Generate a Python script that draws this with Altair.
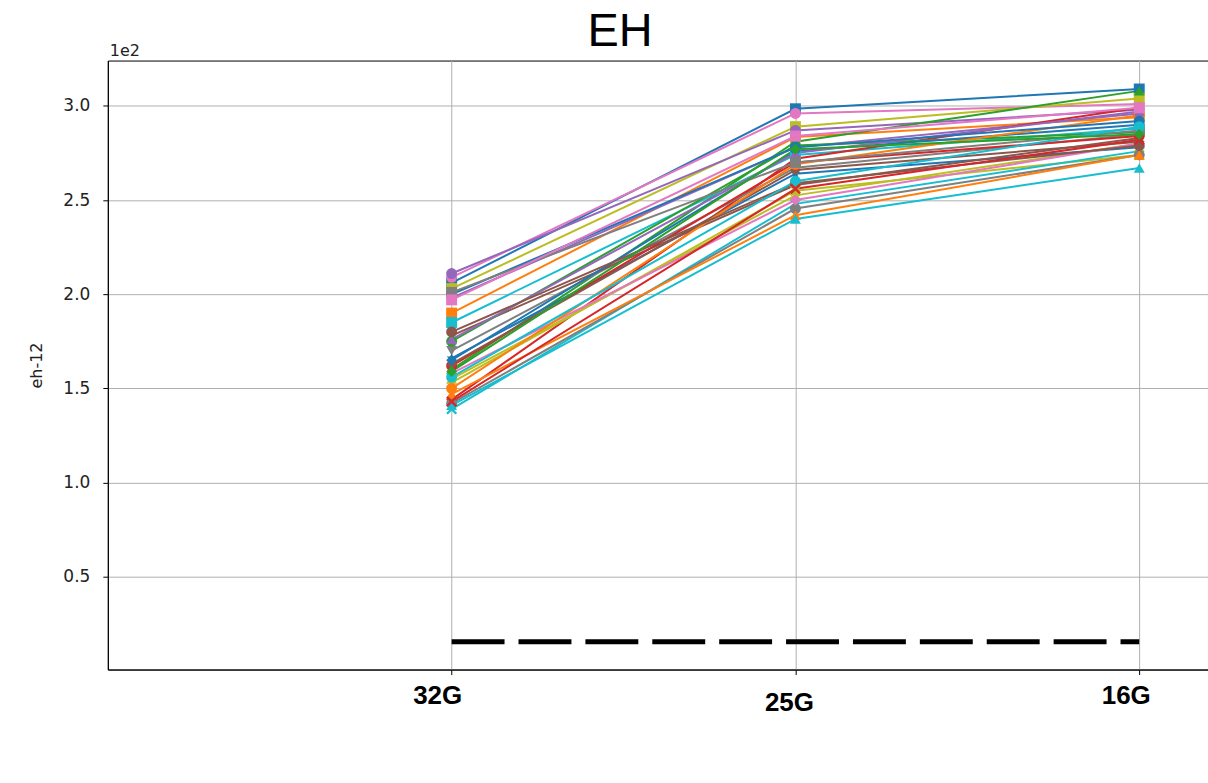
import altair as alt
import pandas as pd

categories = ["32G", "25G", "16G"]
cat_pos = [1, 2, 3]

series = [f"s{i}" for i in range(1, 33)]
colors = ["#1f77b4", "#e377c2", "#bcbd22", "#9467bd", "#ff7f0e", "#2ca02c", "#9467bd", "#17becf",
          "#d62728", "#7f7f7f", "#1f77b4", "#8c564b", "#bcbd22", "#bcbd22", "#17becf", "#7f7f7f",
          "#ff7f0e", "#17becf", "#2ca02c", "#e377c2", "#d62728", "#8c564b", "#1f77b4", "#ff7f0e",
          "#9467bd", "#1f77b4", "#7f7f7f", "#e377c2", "#8c564b", "#17becf", "#d62728", "#2ca02c"]
STAR = "M0,-1L0.2245,-0.309L0.951,-0.309L0.363,0.118L0.588,0.809L0,0.382L-0.588,0.809L-0.363,0.118L-0.951,-0.309L-0.2245,-0.309Z"
XSHP = "M-1,-0.7L-0.7,-1L0,-0.3L0.7,-1L1,-0.7L0.3,0L1,0.7L0.7,1L0,0.3L-0.7,1L-1,0.7L-0.3,0Z"
shapes = ["square", "circle", "square", "circle", "square", "triangle-up", "diamond", "square",
          "diamond", "triangle-down", STAR, STAR, XSHP, "triangle-up", XSHP, "circle",
          "triangle-up", "triangle-up", "circle", "diamond", "circle", "diamond", "diamond", "circle",
          "triangle-up", "circle", "square", "square", "circle", "circle", XSHP, "diamond"]
v32 = [2.06, 2.09, 2.03, 2.11, 1.90, 1.60, 1.98, 1.85, 1.44, 1.70, 1.66, 1.78, 1.53, 1.55, 1.39, 1.42,
       1.47, 1.41, 1.75, 1.58, 1.62, 1.63, 1.65, 1.50, 1.76, 2.00, 2.01, 1.97, 1.80, 1.56, 1.43, 1.59]
v25 = [2.985, 2.96, 2.89, 2.87, 2.835, 2.81, 2.78, 2.74, 2.72, 2.672, 2.64, 2.58, 2.55, 2.525, 2.48, 2.455,
       2.42, 2.40, 2.79, 2.50, 2.70, 2.66, 2.76, 2.69, 2.75, 2.78, 2.70, 2.84, 2.59, 2.60, 2.56, 2.77]
v16 = [3.09, 3.01, 3.04, 2.98, 2.94, 3.08, 2.96, 2.88, 2.99, 2.85, 2.78, 2.83, 2.74, 2.80, 2.76, 2.74,
       2.74, 2.67, 2.86, 2.80, 2.84, 2.81, 2.90, 2.95, 2.97, 2.92, 2.87, 2.99, 2.79, 2.89, 2.82, 2.85]

limit_value = 0.155
y_ticks = [0.5, 1.0, 1.5, 2.0, 2.5, 3.0]

rows = []
for i, s in enumerate(series):
    for c, p, v in zip(categories, cat_pos, (v32[i], v25[i], v16[i])):
        rows.append({"series": s, "cat": c, "pos": p, "value": v, "color": colors[i], "shape": shapes[i]})
df = pd.DataFrame(rows)
limit_df = pd.DataFrame({"pos": [cat_pos[0], cat_pos[-1]], "value": [limit_value, limit_value]})
label_df = pd.DataFrame({"cat": categories, "pos": cat_pos})

xscale = alt.Scale(domain=[0, 3.2], nice=False, zero=False)
yscale = alt.Scale(domain=[0.007, 3.241], nice=False, zero=False)

xenc = alt.X("pos:Q", scale=xscale,
             axis=alt.Axis(values=cat_pos, labels=False, title=None, grid=True, tickSize=5,
                           domainColor="black", tickColor="black", gridColor="#b0b0b0"))
yenc = alt.Y("value:Q", scale=yscale,
             axis=alt.Axis(values=y_ticks, format=".1f", title="eh-12", grid=True, tickSize=5,
                           labelFont="DejaVu Sans", labelFontSize=17, labelColor="#222222",
                           labelPadding=13, titleFont="DejaVu Sans", titleFontSize=16,
                           titleFontWeight="normal", titleColor="#222222", titlePadding=18,
                           domainColor="black", tickColor="black", gridColor="#b0b0b0"))

base = alt.Chart(df)
lines = base.mark_line(strokeWidth=2).encode(
    x=xenc, y=yenc, detail="series:N", color=alt.Color("color:N", scale=None), order="pos:Q")
points = base.mark_point(filled=True, size=120, opacity=1).encode(
    x="pos:Q", y="value:Q", color=alt.Color("color:N", scale=None), shape=alt.Shape("shape:N", scale=None))

limit = alt.Chart(limit_df).mark_line(color="black", strokeWidth=5, strokeDash=[53, 14]).encode(
    x="pos:Q", y="value:Q")

lab_font = dict(font="Liberation Sans", fontSize=26, fontWeight="bold", color="black", baseline="middle")
lab32 = alt.Chart(label_df).transform_filter(alt.datum.cat == "32G").mark_text(dx=-14, **lab_font).encode(
    x="pos:Q", y=alt.value(637), text="cat:N")
lab25 = alt.Chart(label_df).transform_filter(alt.datum.cat == "25G").mark_text(dx=-6, **lab_font).encode(
    x="pos:Q", y=alt.value(644), text="cat:N")
lab16 = alt.Chart(label_df).transform_filter(alt.datum.cat == "16G").mark_text(dx=-13, **lab_font).encode(
    x="pos:Q", y=alt.value(637), text="cat:N")

offset_txt = alt.Chart(label_df).transform_filter(alt.datum.cat == "32G").mark_text(
    text="1e2", font="DejaVu Sans", fontSize=16, color="#222222", align="left", baseline="alphabetic"
).encode(x=alt.value(2), y=alt.value(-5))

title_txt = alt.Chart(label_df).transform_filter(alt.datum.cat == "32G").mark_text(
    text="EH", font="Liberation Sans", fontSize=47, color="black", align="center", baseline="alphabetic"
).encode(x=alt.value(513), y=alt.value(-15))

chart = alt.layer(lines, points, limit, lab32, lab25, lab16, offset_txt, title_txt).properties(
    width=1102, height=610,
    autosize=alt.AutoSizeParams(type="none"),
    padding={"left": 108, "top": 60, "right": 0, "bottom": 113},
    background="white",
).configure_view(stroke="black", strokeWidth=1)

chart.save("out.html", embed_options={"renderer": "svg", "actions": False})
